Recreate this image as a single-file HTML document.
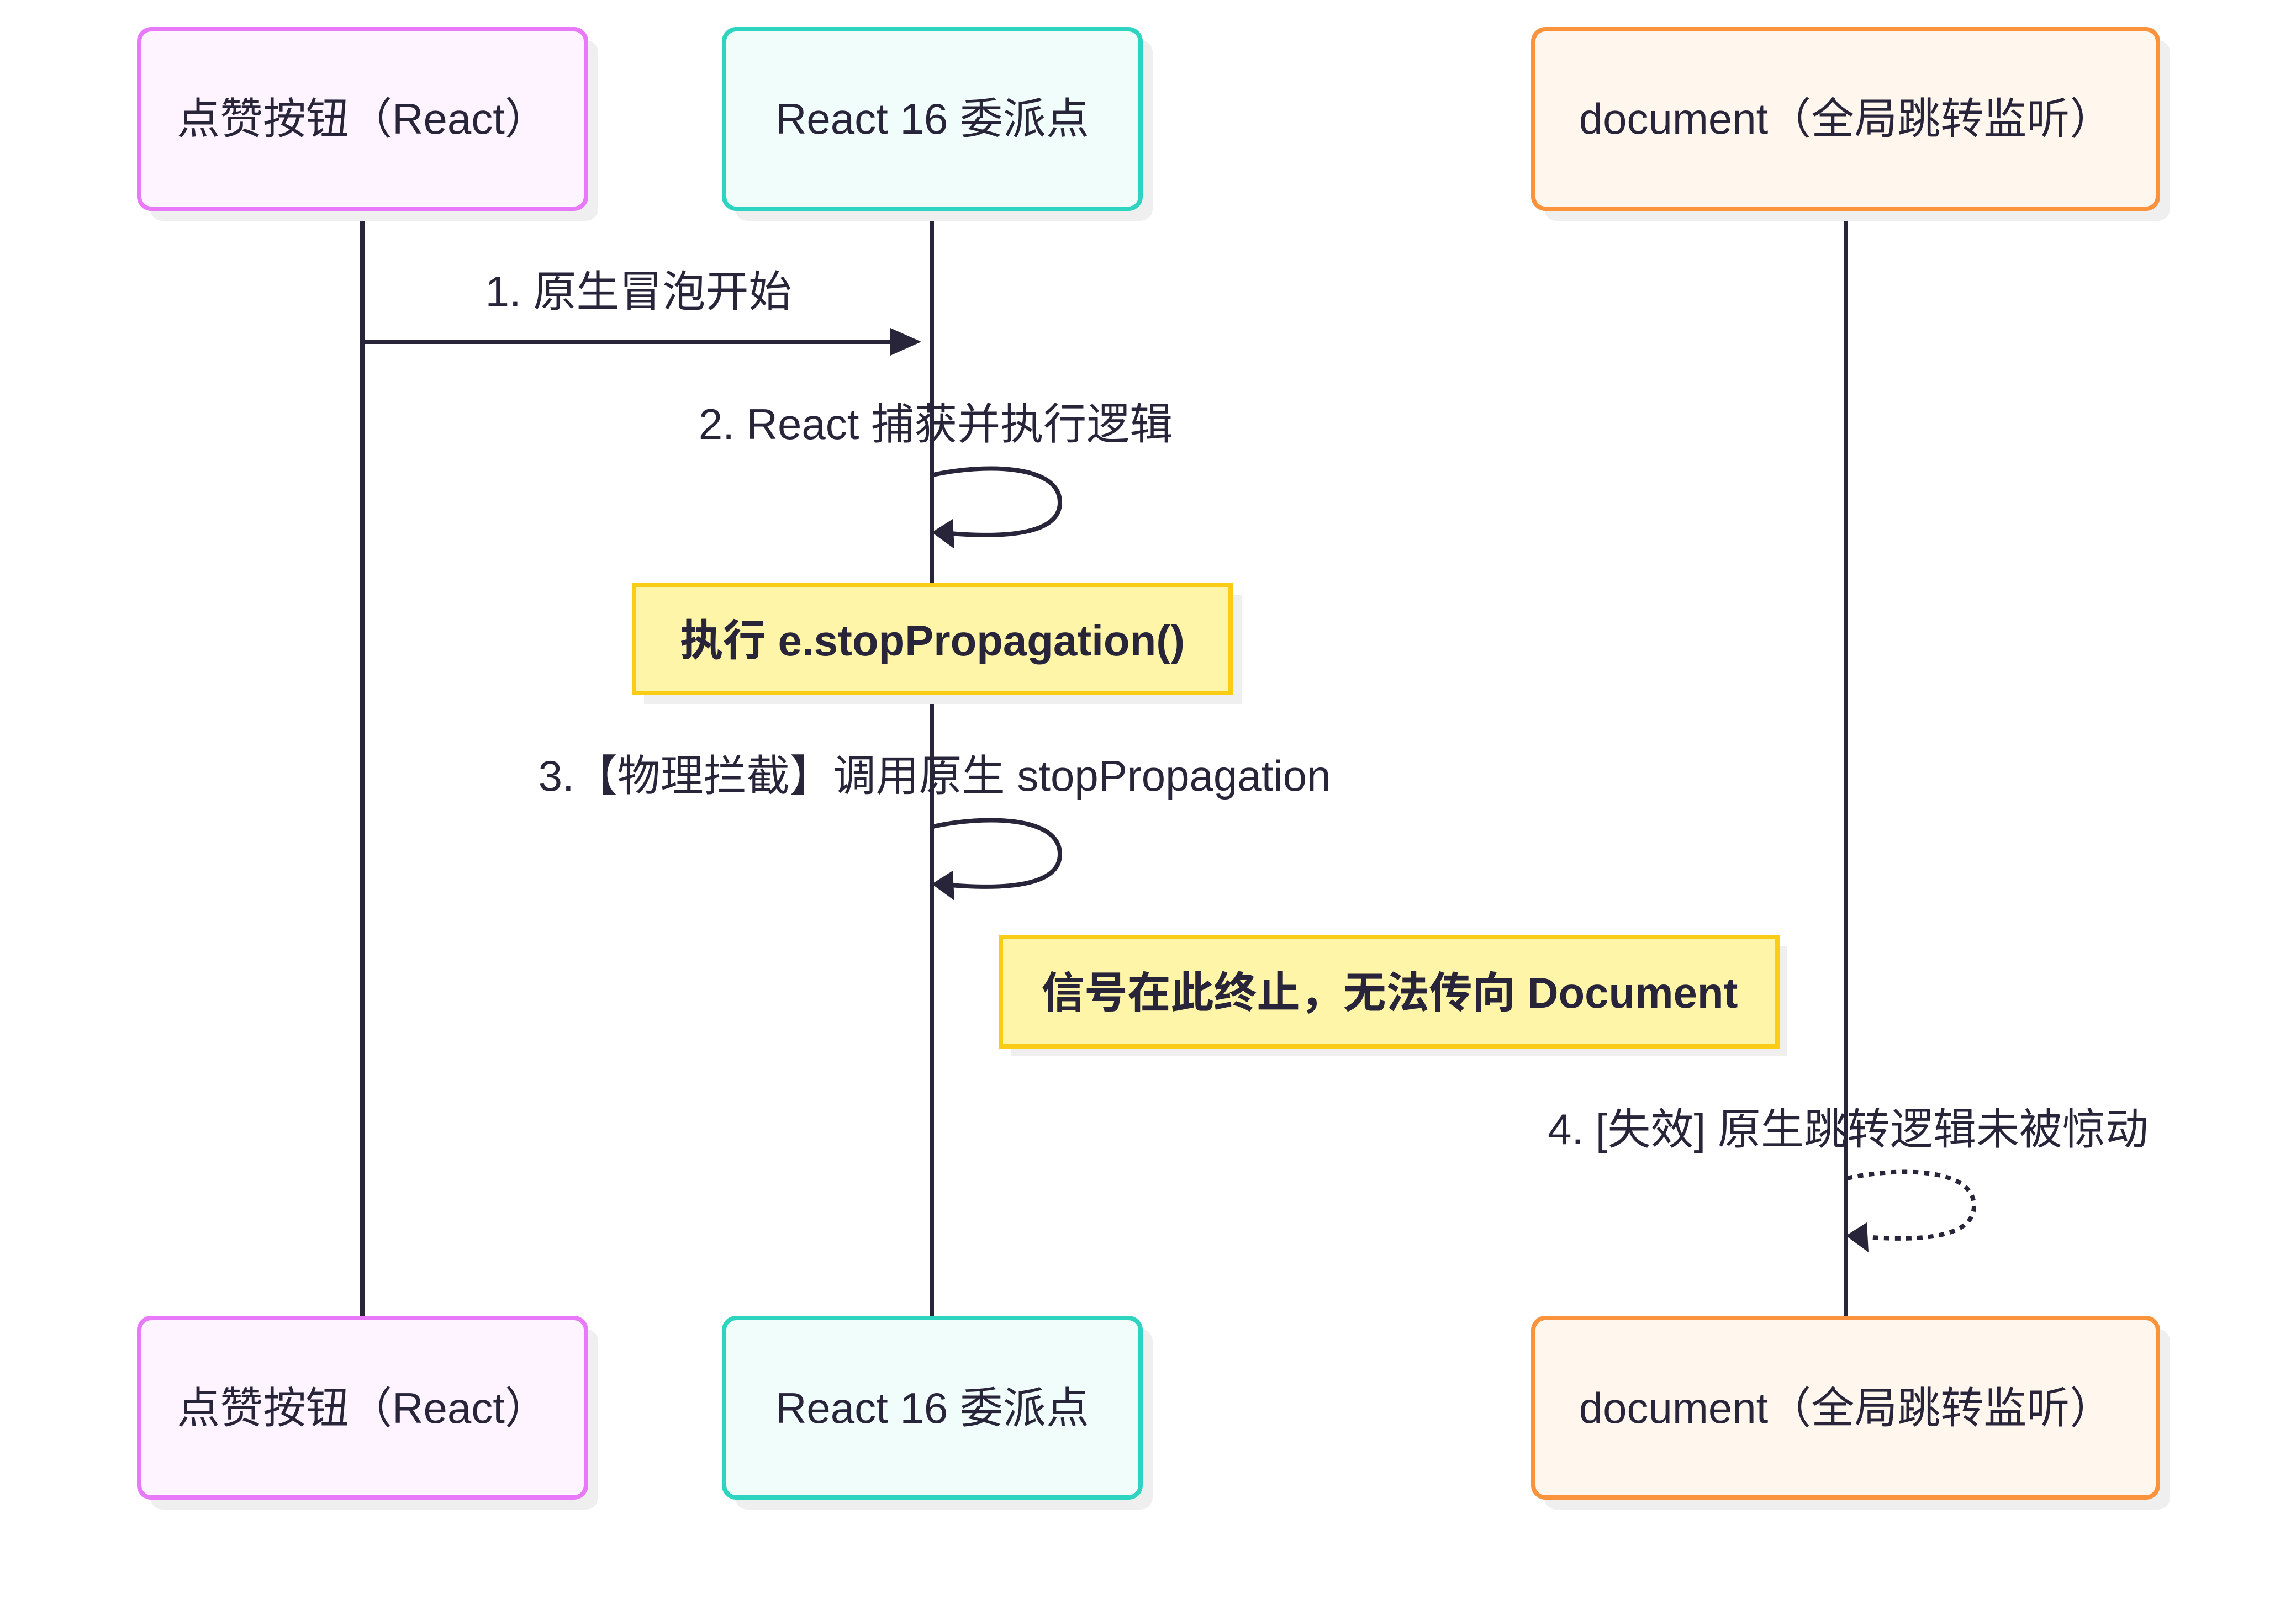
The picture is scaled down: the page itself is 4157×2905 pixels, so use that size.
<!DOCTYPE html>
<html><head><meta charset="utf-8"><style>
html,body{margin:0;padding:0;background:#fff;}
svg{display:block;}
text{font-family:"Liberation Sans","Noto Sans CJK SC",sans-serif;fill:#28253a;}
</style></head><body>
<svg width="4157" height="2905" viewBox="0 0 4157 2905" xmlns="http://www.w3.org/2000/svg">
<defs>
<marker id="ah" markerWidth="10" markerHeight="10" refX="9" refY="5" orient="auto" markerUnits="userSpaceOnUse" viewBox="0 0 10 10"></marker>
</defs>
<!-- lifelines -->
<g stroke="#28253a" stroke-width="8">
<line x1="656" y1="378" x2="656" y2="2385"/>
<line x1="1687" y1="378" x2="1687" y2="2385"/>
<line x1="3342" y1="378" x2="3342" y2="2385"/>
</g>
<!-- boxes with shadows -->
<g>
<rect x="272" y="73" width="811" height="327" rx="22" fill="#efefef"/>
<rect x="1331" y="73" width="756" height="327" rx="22" fill="#efefef"/>
<rect x="2796" y="73" width="1133" height="327" rx="22" fill="#efefef"/>
<rect x="272" y="2407" width="811" height="327" rx="22" fill="#efefef"/>
<rect x="1331" y="2407" width="756" height="327" rx="22" fill="#efefef"/>
<rect x="2796" y="2407" width="1133" height="327" rx="22" fill="#efefef"/>
<rect x="252" y="53" width="809" height="325" rx="22" fill="#FDF4FF" stroke="#E879F9" stroke-width="8"/>
<rect x="1311" y="53" width="754" height="325" rx="22" fill="#F0FDFA" stroke="#2DD4BF" stroke-width="8"/>
<rect x="2776" y="53" width="1131" height="325" rx="22" fill="#FFF7ED" stroke="#FB923C" stroke-width="8"/>
<rect x="252" y="2387" width="809" height="325" rx="22" fill="#FDF4FF" stroke="#E879F9" stroke-width="8"/>
<rect x="1311" y="2387" width="754" height="325" rx="22" fill="#F0FDFA" stroke="#2DD4BF" stroke-width="8"/>
<rect x="2776" y="2387" width="1131" height="325" rx="22" fill="#FFF7ED" stroke="#FB923C" stroke-width="8"/>
</g>
<g font-size="78" text-anchor="middle" dominant-baseline="central">
<text x="656" y="215">点赞按钮（React）</text>
<text x="1688" y="215">React 16 委派点</text>
<text x="3342" y="215">document（全局跳转监听）</text>
<text x="656" y="2550">点赞按钮（React）</text>
<text x="1688" y="2550">React 16 委派点</text>
<text x="3342" y="2550">document（全局跳转监听）</text>
</g>
<!-- message 1 -->
<text x="1156" y="528" font-size="78" text-anchor="middle" dominant-baseline="central">1. 原生冒泡开始</text>
<line x1="656" y1="619" x2="1620" y2="619" stroke="#28253a" stroke-width="8"/>
<polygon points="1612,594 1668,619 1612,644" fill="#28253a"/>
<!-- message 2 -->
<text x="1694" y="768" font-size="78" text-anchor="middle" dominant-baseline="central">2. React 捕获并执行逻辑</text>
<path d="M1689,860 C1780,840 1919,840 1919,910 C1919,965 1830,975 1720,966" fill="none" stroke="#28253a" stroke-width="8"/>
<polygon points="1725,940 1687,964 1728,994" fill="#28253a"/>
<!-- note 1 -->
<rect x="1166" y="1078" width="1082" height="197" fill="#efefef"/>
<rect x="1148" y="1060" width="1080" height="195" fill="#FEF5A8" stroke="#FACC15" stroke-width="8"/>
<text x="1688" y="1160" font-size="78" font-weight="bold" text-anchor="middle" dominant-baseline="central">执行 e.stopPropagation()</text>
<!-- message 3 -->
<text x="1692" y="1405" font-size="78" text-anchor="middle" dominant-baseline="central">3.【物理拦截】调用原生 stopPropagation</text>
<path d="M1689,1497 C1780,1477 1919,1477 1919,1547 C1919,1602 1830,1612 1720,1603" fill="none" stroke="#28253a" stroke-width="8"/>
<polygon points="1725,1577 1687,1601 1728,1631" fill="#28253a"/>
<!-- note 2 -->
<rect x="1830" y="1713" width="1406" height="200" fill="#efefef"/>
<rect x="1812" y="1697" width="1406" height="198" fill="#FEF5A8" stroke="#FACC15" stroke-width="8"/>
<text x="2516" y="1798" font-size="78" font-weight="bold" text-anchor="middle" dominant-baseline="central">信号在此终止，无法传向 Document</text>
<!-- message 4 -->
<text x="3346" y="2045" font-size="78" text-anchor="middle" dominant-baseline="central">4. [失效] 原生跳转逻辑未被惊动</text>
<path d="M3344,2134 C3435,2114 3574,2114 3574,2184 C3574,2239 3485,2249 3375,2240" fill="none" stroke="#28253a" stroke-width="8" stroke-dasharray="10,10"/>
<polygon points="3380,2214 3342,2238 3383,2268" fill="#28253a"/>
</svg>
</body></html>
